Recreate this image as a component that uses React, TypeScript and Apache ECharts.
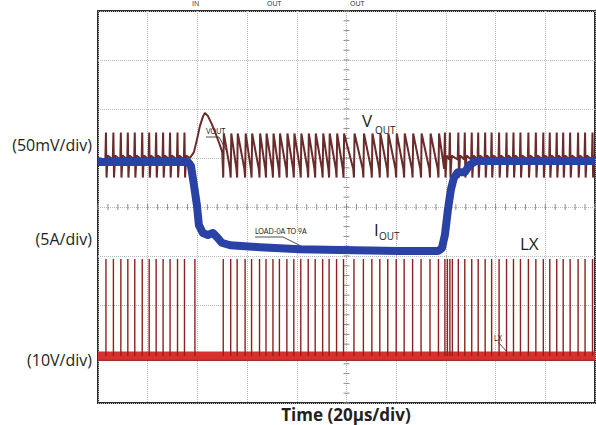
import React, { useEffect, useRef } from "react";
import * as echarts from "echarts";

// Screen divisions: x 0..10 (20us/div), y -4..4
const X_MIN = 0;
const X_MAX = 10;
const Y_MIN = -4;
const Y_MAX = 4;

// LX switching pulse times (div)
const lxPulseTimes = [
  0.16, 0.31, 0.46, 0.6, 0.74, 0.89, 1.03, 1.17, 1.31, 1.45, 1.6, 1.74, 1.95,
  2.52, 2.67, 2.8, 2.96, 3.09, 3.25, 3.38, 3.52, 3.65, 3.8, 3.94, 4.08, 4.23,
  4.37, 4.52, 4.65, 4.8, 4.94, 5.15, 5.34, 5.51, 5.67, 5.83, 6.0, 6.16, 6.33,
  6.5, 6.68, 6.85, 6.98, 7.03, 7.08, 7.13, 7.25, 7.38, 7.52, 7.65,
  7.79, 7.92, 8.07, 8.22, 8.36, 8.5, 8.66, 8.81, 8.96, 9.09, 9.23, 9.36, 9.5,
  9.66, 9.8, 9.95,
];
const lxBaseline = [-3.04];
const lxPulseTop = [-1.06];

// IOUT trace (div)
const ioutTrace = [
  [0, 0.92], [1.81, 0.92], [1.87, 0.84], [1.93, 0.45], [1.99, 0.04],
  [2.03, -0.37], [2.11, -0.53], [2.21, -0.57], [2.31, -0.53], [2.39, -0.61],
  [2.49, -0.73], [2.66, -0.78], [3.26, -0.82], [4.06, -0.86], [4.87, -0.88],
  [6.08, -0.9], [6.84, -0.9], [6.92, -0.84], [6.98, -0.57], [7.04, -0.06],
  [7.1, 0.35], [7.16, 0.59], [7.24, 0.71], [7.38, 0.71], [7.48, 0.86],
  [7.61, 0.94], [10, 0.94],
];

// VOUT load-step overshoot (div)
const voutOvershoot = [
  [1.85, 1.0], [1.93, 1.12], [1.99, 1.37], [2.05, 1.65], [2.11, 1.84],
  [2.15, 1.92], [2.21, 1.86], [2.29, 1.69], [2.37, 1.49], [2.45, 1.27],
  [2.5, 1.12],
];
// light-load ripple levels: before spike, spike top, spike bottom, after spike
const voutLightLevels = [0.97, 1.52, 0.6, 1.05];
// heavy-load sawtooth levels: dip, top, end of decay
const voutHeavyLevels = [0.6, 1.5, 0.78];
const voutRest = [1.0];
const heavyStart = 2.52;
const heavyEnd = 6.95;
const stepStart = 1.85;

function buildVout() {
  const pts: number[][] = [[0, voutRest[0]]];
  const L = voutLightLevels;
  const H = voutHeavyLevels;
  lxPulseTimes.forEach((t) => {
    if (t < stepStart) {
      pts.push([t - 0.012, L[0]], [t, L[1]], [t + 0.012, L[2]], [t + 0.035, L[3]]);
    }
  });
  voutOvershoot.forEach((p) => pts.push(p));
  let last = -1;
  lxPulseTimes.forEach((t, i) => {
    if (t >= heavyStart && t < heavyEnd) {
      const next = lxPulseTimes[i + 1];
      pts.push([t, H[0]], [t + 0.012, H[1]], [next - 0.015, H[2]]);
      last = t;
    } else if (t >= heavyEnd && t - last > 0.09) {
      pts.push([t - 0.012, L[0]], [t, L[1]], [t + 0.012, L[2]], [t + 0.035, L[3]]);
      last = t;
    }
  });
  pts.push([X_MAX, voutRest[0]]);
  return pts;
}

const TXT = "#231f20";
const FONT = "Open Sans";

export default function App() {
  const ref = useRef<HTMLDivElement>(null);
  useEffect(() => {
    if (!ref.current) return;
    const chart = echarts.init(ref.current, null, { renderer: "svg" });

    const ticks: number[][] = [];
    for (let i = 0; i <= 50; i++) ticks.push([i * 0.2, 0, 0]);
    for (let i = 0; i <= 40; i++) ticks.push([5, -4 + i * 0.2, 1]);

    const option: any = {
      animation: false,
      backgroundColor: "#ffffff",
      grid: {
        left: 98,
        top: 11,
        width: 497,
        height: 392,
        show: true,
        borderColor: "#2e2e2e",
        borderWidth: 2,
        backgroundColor: "transparent",
      },
      xAxis: {
        type: "value",
        min: X_MIN,
        max: X_MAX,
        interval: 1,
        axisLine: { show: false },
        axisTick: { show: false },
        axisLabel: { show: false },
        splitLine: { show: true, lineStyle: { type: "dotted", color: "#b8b8b8", width: 1 } },
      },
      yAxis: {
        type: "value",
        min: Y_MIN,
        max: Y_MAX,
        interval: 1,
        axisLine: { show: false },
        axisTick: { show: false },
        axisLabel: { show: false },
        splitLine: { show: true, lineStyle: { type: "dotted", color: "#b8b8b8", width: 1 } },
      },
      series: [
        {
          type: "custom",
          silent: true,
          data: ticks,
          renderItem: (params: any, api: any) => {
            const p = api.coord([api.value(0), api.value(1)]);
            const vert = api.value(2) === 0;
            return {
              type: "line",
              shape: vert
                ? { x1: p[0], y1: p[1] - 3, x2: p[0], y2: p[1] + 3 }
                : { x1: p[0] - 3, y1: p[1], x2: p[0] + 3, y2: p[1] },
              style: { stroke: "#8c8c8c", lineWidth: 1 },
            };
          },
          z: 1,
        },
        {
          type: "line",
          data: [[X_MIN, lxBaseline[0]], [X_MAX, lxBaseline[0]]],
          showSymbol: false,
          lineStyle: { color: "#d8302c", width: 9 },
          z: 2,
        },
        {
          type: "line",
          data: [[X_MIN, lxBaseline[0] - 0.09], [X_MAX, lxBaseline[0] - 0.09]],
          showSymbol: false,
          lineStyle: { color: "#9a1c1c", width: 1 },
          z: 2,
        },
        {
          type: "custom",
          data: lxPulseTimes.map((t) => [t, lxPulseTop[0]]),
          renderItem: (params: any, api: any) => {
            const top = api.coord([api.value(0), api.value(1)]);
            const base = api.coord([api.value(0), lxBaseline[0]]);
            return {
              type: "line",
              shape: { x1: top[0], y1: top[1], x2: base[0], y2: base[1] },
              style: { stroke: "#8e2020", lineWidth: 1.4 },
            };
          },
          z: 3,
        },
        {
          type: "line",
          data: buildVout(),
          showSymbol: false,
          lineStyle: { color: "#6b2b2b", width: 2 },
          z: 4,
        },
        {
          type: "line",
          data: ioutTrace,
          showSymbol: false,
          lineStyle: { color: "#2a41a6", width: 8, join: "round" },
          z: 5,
        },
      ],
      graphic: [
        { type: "text", x: 192, y: 0, style: { text: "IN", fontSize: 7, fill: TXT, fontFamily: FONT, verticalAlign: "top" } },
        { type: "text", x: 267, y: 0, style: { text: "OUT", fontSize: 7, fill: TXT, fontFamily: FONT, verticalAlign: "top" } },
        { type: "text", x: 350, y: 0, style: { text: "OUT", fontSize: 7, fill: TXT, fontFamily: FONT, verticalAlign: "top" } },
        { type: "text", x: 92, y: 145, style: { text: "(50mV/div)", fontSize: 16, fill: TXT, fontFamily: FONT, align: "right", verticalAlign: "middle" } },
        { type: "text", x: 92, y: 239, style: { text: "(5A/div)", fontSize: 16, fill: TXT, fontFamily: FONT, align: "right", verticalAlign: "middle" } },
        { type: "text", x: 92, y: 360, style: { text: "(10V/div)", fontSize: 16, fill: TXT, fontFamily: FONT, align: "right", verticalAlign: "middle" } },
        { type: "text", x: 346, y: 414, style: { text: "Time (20μs/div)", fontSize: 17, fontWeight: "bold", fill: TXT, fontFamily: FONT, align: "center", verticalAlign: "middle" } },
        { type: "text", x: 362, y: 120, style: { text: "V", fontSize: 17, fill: TXT, fontFamily: FONT, verticalAlign: "middle" } },
        { type: "text", x: 375, y: 130, style: { text: "OUT", fontSize: 10, fill: TXT, fontFamily: FONT, verticalAlign: "middle" } },
        { type: "text", x: 374, y: 229, style: { text: "I", fontSize: 17, fill: TXT, fontFamily: FONT, verticalAlign: "middle" } },
        { type: "text", x: 379, y: 236, style: { text: "OUT", fontSize: 10, fill: TXT, fontFamily: FONT, verticalAlign: "middle" } },
        { type: "text", x: 520, y: 243, style: { text: "LX", fontSize: 17, fill: TXT, fontFamily: FONT, verticalAlign: "middle" } },
        { type: "text", x: 206, y: 131, style: { text: "VOUT", fontSize: 7, fill: TXT, fontFamily: "Liberation Sans Narrow, Lato", verticalAlign: "middle" } },
        { type: "line", shape: { x1: 206, y1: 137, x2: 219, y2: 137 }, style: { stroke: TXT, lineWidth: 0.8 } },
        { type: "line", shape: { x1: 219, y1: 137, x2: 226, y2: 150 }, style: { stroke: TXT, lineWidth: 0.8 } },
        { type: "text", x: 255, y: 231, style: { text: "LOAD-0A TO 9A", fontSize: 7, fill: TXT, fontFamily: "Liberation Sans Narrow, Lato", verticalAlign: "middle" } },
        { type: "line", shape: { x1: 255, y1: 237, x2: 283, y2: 237 }, style: { stroke: TXT, lineWidth: 0.8 } },
        { type: "line", shape: { x1: 283, y1: 237, x2: 303, y2: 247 }, style: { stroke: TXT, lineWidth: 0.8 } },
        { type: "text", x: 494, y: 338, style: { text: "LX", fontSize: 7, fill: TXT, fontFamily: "Lato", verticalAlign: "middle" } },
        { type: "line", shape: { x1: 498, y1: 342, x2: 508, y2: 353 }, style: { stroke: TXT, lineWidth: 0.8 } },
      ],
    };
    chart.setOption(option);
    return () => chart.dispose();
  }, []);
  return (
    <div
      ref={ref}
      style={{ position: "absolute", left: 0, top: 0, width: 596, height: 425 }}
    />
  );
}
